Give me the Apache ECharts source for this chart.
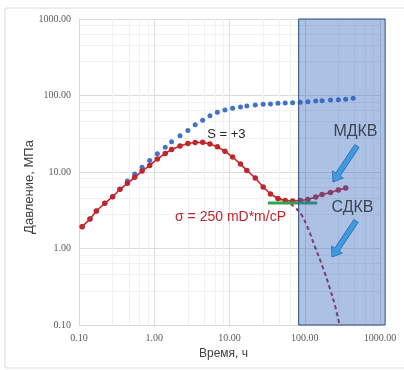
<!DOCTYPE html>
<html>
<head>
<meta charset="utf-8">
<script src="https://cdn.jsdelivr.net/npm/echarts@6/dist/echarts.min.js"></script>
<style>
html,body{margin:0;padding:0;background:#fff;}
#chart{width:404px;height:370px;}
</style>
</head>
<body>
<div id="chart"></div>
<script>
// ---- data ----
const times = [0.11,0.14,0.17,0.22,0.28,0.35,0.44,0.55,0.69,0.87,1.1,1.4,1.7,2.2,2.8,3.5,4.4,5.5,6.9,8.7,11,14,17,22,28,35,44,55,69,87,110,140,170,220,280,350,440];
const pressure = [1.93,2.43,3.09,3.90,4.75,5.94,7.63,9.42,11.5,14.1,17.3,21.0,24.9,29.7,34.9,41.5,47.5,54.5,60.3,64.6,68.0,70.7,72.9,75.1,76.7,77.4,79.1,79.5,80.5,81.5,82.9,84.7,85.5,87.3,88.0,89.2,91.9];
const derivative = [1.93,2.43,3.09,3.90,4.75,5.94,7.12,8.53,10.3,12.2,14.8,17.5,19.7,21.9,23.6,24.3,24.4,23.2,21.4,18.7,15.7,12.7,10.5,8.35,6.37,5.16,4.51,4.24,4.18,4.24,4.37,4.71,5.08,5.40,5.82,6.18];
const boundaryTimes = [44,59.8,74.1,89.1,107,137,175,217,253,290];
const boundaryValues = [4.51,3.99,3.44,2.82,1.97,1.05,0.556,0.296,0.177,0.1];
const radialTimes = [32.5,146];
const radialValues = [3.94,3.94];
const xTicks = [0.1,1,10,100,1000];
const yTicks = [0.1,1,10,100,1000];
const xTitle = 'Время, ч';
const yTitle = 'Давление, МПа';
const shadeRange = {t0:83, t1:1170, p0:0.1, p1:1000};
const labelS = {text:'S = +3', t:9.1, p:31.4};
const labelSigma = {text:'σ = 250 mD*m/cP', t:1.89, p:2.58};
const labelMDKV = {text:'МДКВ', t:472, p:33.4};
const labelSDKV = {text:'СДКВ', t:431, p:3.38};
const arrows = [
  {from:[494,21.9], to:[237,7.4]},
  {from:[480,2.29], to:[230,0.774]}
];

const zip = (a,b) => a.map((v,i)=>[v,b[i]]);
const chart = echarts.init(document.getElementById('chart'), null, {renderer:'canvas'});
const fmt = v => Number(v).toFixed(2);

const option = {
  animation:false,
  backgroundColor:'#fff',
  grid:{left:79, right:24, top:19, bottom:45},
  xAxis:{
    type:'log', logBase:10, min:xTicks[0], max:xTicks[xTicks.length-1],
    name:xTitle, nameLocation:'middle', nameGap:23,
    nameTextStyle:{fontFamily:'Liberation Sans Narrow, Liberation Sans', fontSize:12, color:'#404040', padding:[0,12,0,0]},
    axisLine:{lineStyle:{color:'#d9d9d9'}},
    axisTick:{show:false},
    axisLabel:{formatter:fmt, fontFamily:'Liberation Serif', fontSize:10, color:'#595959', margin:8},
    splitLine:{show:true, lineStyle:{color:'#dcdcdc', width:1}},
    minorTick:{show:false, splitNumber:5},
    minorSplitLine:{show:true, lineStyle:{color:'#f1f1f1'}}
  },
  yAxis:{
    type:'log', logBase:10, min:yTicks[0], max:yTicks[yTicks.length-1],
    axisLine:{show:true, lineStyle:{color:'#d9d9d9'}},
    axisTick:{show:false},
    axisLabel:{formatter:fmt, fontFamily:'Liberation Serif', fontSize:10, color:'#595959', margin:8},
    splitLine:{show:true, lineStyle:{color:'#dcdcdc', width:1}},
    minorTick:{show:false, splitNumber:5},
    minorSplitLine:{show:true, lineStyle:{color:'#f1f1f1'}}
  },
  series:[
    {
      name:'pressure', type:'line', data:zip(times,pressure),
      symbol:'circle', symbolSize:5, showSymbol:true,
      lineStyle:{width:0, opacity:0},
      itemStyle:{color:'#4472c4'}, z:2
    },
    {
      name:'derivative', type:'line', data:zip(times.slice(0,derivative.length),derivative),
      symbol:'circle', symbolSize:5.5,
      lineStyle:{width:1.6, color:'#c0272d'},
      itemStyle:{color:'#c0272d'}, z:3
    },
    {
      name:'boundary', type:'line', data:zip(boundaryTimes,boundaryValues),
      smooth:true, symbol:'none',
      lineStyle:{width:2, color:'#a52a3a', type:[4,3]}, z:3
    },
    {
      name:'radial', type:'line', data:zip(radialTimes,radialValues),
      symbol:'none', lineStyle:{width:3, color:'#2ea44f'}, z:4
    }
  ]
};
chart.setOption(option);

function px(t,p){ return chart.convertToPixel({gridIndex:0},[t,p]); }
function arrowPoly(a,b){
  const dx=b[0]-a[0], dy=b[1]-a[1], L=Math.hypot(dx,dy);
  const ux=dx/L, uy=dy/L, nx=-uy, ny=ux;
  const sw=2.6, hw=6.5, hl=9;
  const h=[b[0]-ux*hl, b[1]-uy*hl];
  return [
    [a[0]+nx*sw, a[1]+ny*sw],[h[0]+nx*sw,h[1]+ny*sw],[h[0]+nx*hw,h[1]+ny*hw],
    b,[h[0]-nx*hw,h[1]-ny*hw],[h[0]-nx*sw,h[1]-ny*sw],[a[0]-nx*sw,a[1]-ny*sw]
  ];
}
const r0 = px(shadeRange.t0, shadeRange.p1), r1 = px(shadeRange.t1, shadeRange.p0);
const sPos = px(labelS.t,labelS.p), sigPos = px(labelSigma.t,labelSigma.p);
const mPos = px(labelMDKV.t,labelMDKV.p), cPos = px(labelSDKV.t,labelSDKV.p);
const graphics = [
  {type:'rect', silent:true, z:-10, shape:{x:5, y:8, width:420, height:360, r:2},
   style:{fill:'none', stroke:'#d9d9d9', lineWidth:1}},
  {type:'text', z:60, x:29, y:187, rotation:Math.PI/2,
   style:{text:yTitle, fill:'#404040', font:'13px Liberation Sans', textAlign:'center', textVerticalAlign:'middle'}},
  {type:'rect', silent:true, z:50, shape:{x:r0[0], y:r0[1], width:r1[0]-r0[0], height:r1[1]-r0[1]},
   style:{fill:'rgba(50,100,190,0.40)', stroke:'#2e4a86', lineWidth:1}},
  {type:'text', z:60, x:sPos[0], y:sPos[1], style:{text:labelS.text, fill:'#262626', font:'13px Liberation Sans', textAlign:'center', textVerticalAlign:'middle'}},
  {type:'text', z:60, x:sigPos[0], y:sigPos[1], style:{text:labelSigma.text, fill:'#c0272d', font:'14px Liberation Sans', textAlign:'left', textVerticalAlign:'middle'}},
  {type:'text', z:60, x:mPos[0], y:mPos[1], style:{text:labelMDKV.text, fill:'#3a4556', font:'16px Liberation Sans', textAlign:'center', textVerticalAlign:'middle'}},
  {type:'text', z:60, x:cPos[0], y:cPos[1], style:{text:labelSDKV.text, fill:'#3a4556', font:'16px Liberation Sans', textAlign:'center', textVerticalAlign:'middle'}}
];
arrows.forEach(a=>{
  graphics.push({type:'polygon', z:60, shape:{points:arrowPoly(px(a.from[0],a.from[1]), px(a.to[0],a.to[1]))},
    style:{fill:'#3d9be0', stroke:'#2f64a8', lineWidth:0.8}});
});
chart.setOption({graphic:graphics});
</script>
</body>
</html>
